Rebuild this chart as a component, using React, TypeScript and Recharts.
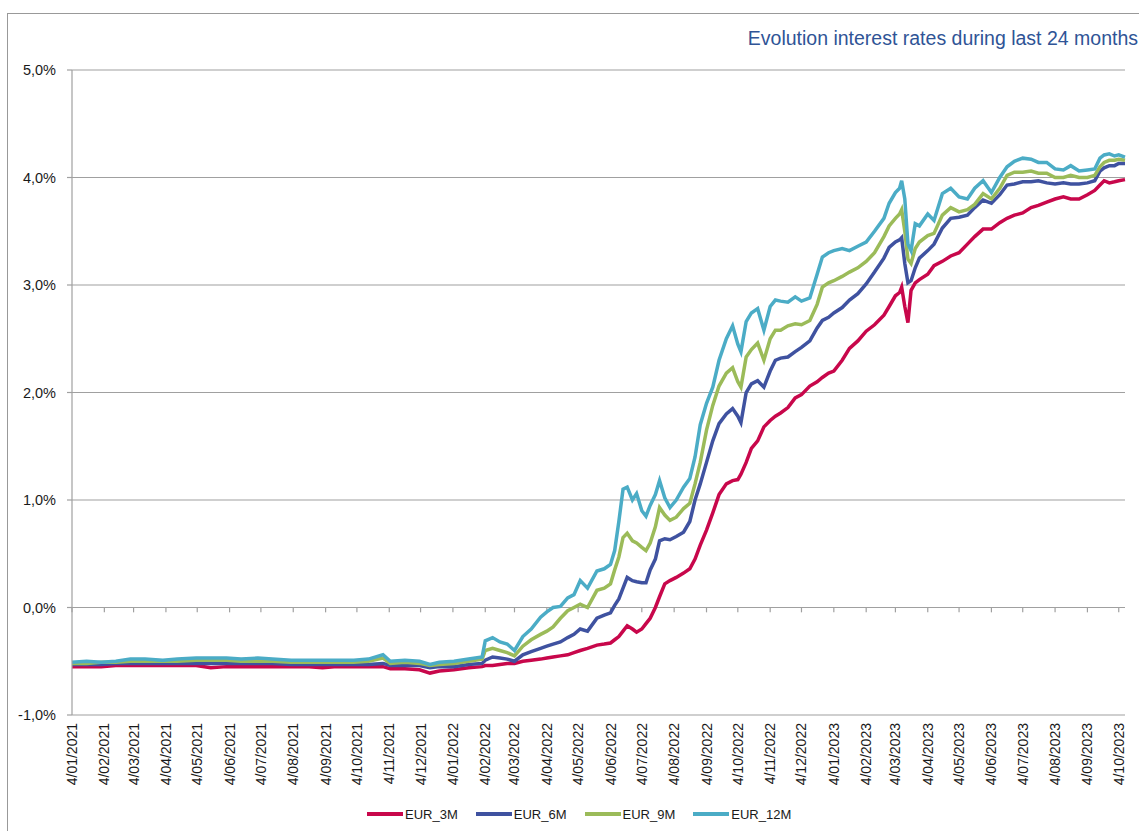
import {
  LineChart,
  Line,
  CartesianGrid,
  XAxis,
  YAxis,
  ReferenceLine,
} from 'recharts'

// fixing dates, one row per period
const dates = [
  '2021-01-04', '2021-01-18', '2021-02-01', '2021-02-15', '2021-03-01', '2021-03-15', '2021-04-01', '2021-04-15', '2021-05-03', '2021-05-17', '2021-06-01', '2021-06-15',
  '2021-07-01', '2021-07-15', '2021-08-02', '2021-08-16', '2021-09-01', '2021-09-15', '2021-10-01', '2021-10-15', '2021-10-29', '2021-11-05', '2021-11-19', '2021-12-03', '2021-12-13', '2021-12-22',
  '2022-01-05', '2022-01-19', '2022-02-01',
  '2022-02-04', '2022-02-11', '2022-02-18', '2022-02-25', '2022-03-04', '2022-03-12', '2022-03-20', '2022-03-29',
  '2022-04-04', '2022-04-10', '2022-04-17', '2022-04-24', '2022-04-30', '2022-05-06', '2022-05-13', '2022-05-22', '2022-05-29',
  '2022-06-04', '2022-06-08', '2022-06-12', '2022-06-16', '2022-06-20', '2022-06-25', '2022-06-29',
  '2022-07-04', '2022-07-08', '2022-07-12', '2022-07-17', '2022-07-21', '2022-07-26', '2022-07-31',
  '2022-08-06', '2022-08-13', '2022-08-19', '2022-08-24', '2022-08-29',
  '2022-09-04', '2022-09-10', '2022-09-16', '2022-09-23', '2022-09-29',
  '2022-10-04', '2022-10-07', '2022-10-12', '2022-10-17', '2022-10-23', '2022-10-29',
  '2022-11-04', '2022-11-09', '2022-11-14', '2022-11-21', '2022-11-28',
  '2022-12-04', '2022-12-12', '2022-12-19', '2022-12-24', '2022-12-30',
  '2023-01-04', '2023-01-12', '2023-01-19', '2023-01-27',
  '2023-02-04', '2023-02-12', '2023-02-21', '2023-02-26',
  '2023-03-04', '2023-03-08', '2023-03-10', '2023-03-13', '2023-03-16', '2023-03-19', '2023-03-23', '2023-03-27',
  '2023-04-04', '2023-04-10', '2023-04-18', '2023-04-26',
  '2023-05-04', '2023-05-12', '2023-05-19', '2023-05-27',
  '2023-06-04', '2023-06-12', '2023-06-19', '2023-06-26',
  '2023-07-04', '2023-07-12', '2023-07-19', '2023-07-27',
  '2023-08-04', '2023-08-12', '2023-08-19', '2023-08-27',
  '2023-09-04', '2023-09-11', '2023-09-16', '2023-09-20', '2023-09-25', '2023-09-30',
  '2023-10-04', '2023-10-10',
]

const eur3m = [
  -0.55, -0.55, -0.55, -0.54, -0.54, -0.54, -0.54, -0.54, -0.54, -0.56, -0.55, -0.55,
  -0.55, -0.55, -0.55, -0.55, -0.56, -0.55, -0.55, -0.55, -0.55, -0.57, -0.57, -0.58, -0.61, -0.59,
  -0.58, -0.56, -0.55,
  -0.54, -0.54, -0.53, -0.52, -0.52, -0.5, -0.49, -0.48,
  -0.47, -0.46, -0.45, -0.44, -0.42, -0.4, -0.38, -0.35, -0.34,
  -0.33, -0.3, -0.27, -0.22, -0.17, -0.2, -0.23,
  -0.2, -0.15, -0.1, 0.0, 0.1, 0.22, 0.25,
  0.28, 0.32, 0.36, 0.45, 0.58,
  0.72, 0.88, 1.05, 1.15, 1.18,
  1.19, 1.24, 1.35, 1.48, 1.55, 1.68,
  1.74, 1.78, 1.81, 1.86, 1.95,
  1.98, 2.06, 2.1, 2.14, 2.18,
  2.2, 2.3, 2.41, 2.48,
  2.57, 2.63, 2.72, 2.8,
  2.9, 2.93, 2.98, 2.8, 2.65, 2.95, 3.02, 3.05,
  3.1, 3.18, 3.22, 3.27,
  3.3, 3.38, 3.45, 3.52,
  3.52, 3.58, 3.62, 3.65,
  3.67, 3.72, 3.74, 3.77,
  3.8, 3.82, 3.8, 3.8,
  3.84, 3.88, 3.93, 3.97, 3.95, 3.96,
  3.97, 3.98,
]

const eur6m = [
  -0.53, -0.53, -0.53, -0.52, -0.52, -0.52, -0.52, -0.52, -0.52, -0.52, -0.52, -0.52,
  -0.52, -0.52, -0.53, -0.53, -0.53, -0.53, -0.53, -0.53, -0.52, -0.54, -0.54, -0.54, -0.56, -0.55,
  -0.55, -0.53, -0.52,
  -0.49, -0.46, -0.47, -0.48, -0.5, -0.44, -0.41, -0.38,
  -0.36, -0.34, -0.32, -0.28, -0.25, -0.2, -0.22, -0.1, -0.07,
  -0.05, 0.02, 0.08, 0.18, 0.28, 0.25, 0.24,
  0.23, 0.23, 0.35, 0.45, 0.62, 0.64, 0.63,
  0.66, 0.7, 0.8, 1.0, 1.15,
  1.35, 1.55, 1.71, 1.8, 1.85,
  1.78, 1.72, 2.0, 2.08, 2.11, 2.05,
  2.2, 2.3, 2.32, 2.33, 2.38,
  2.42, 2.48, 2.6, 2.67, 2.7,
  2.74, 2.79, 2.86, 2.92,
  3.01, 3.12, 3.25, 3.35,
  3.4, 3.42, 3.44, 3.2, 3.02, 3.04, 3.16, 3.25,
  3.32, 3.38, 3.53, 3.62,
  3.63, 3.65, 3.72, 3.79,
  3.76, 3.84, 3.93, 3.94,
  3.96, 3.96, 3.97, 3.95,
  3.94, 3.95, 3.94, 3.94,
  3.95, 3.97, 4.06, 4.09, 4.11, 4.11,
  4.13, 4.13,
]

const eur9m = [
  -0.52, -0.52, -0.51, -0.51, -0.5, -0.5, -0.5, -0.5, -0.49, -0.49, -0.49, -0.5,
  -0.5, -0.5, -0.51, -0.51, -0.51, -0.51, -0.51, -0.5, -0.47, -0.52, -0.51, -0.52, -0.54, -0.53,
  -0.52, -0.5, -0.48,
  -0.4, -0.38, -0.4, -0.42, -0.45, -0.36, -0.3, -0.25,
  -0.22, -0.18, -0.1, -0.03, 0.0, 0.03, 0.0, 0.16, 0.18,
  0.22, 0.35, 0.47, 0.65, 0.69, 0.62, 0.6,
  0.56, 0.53, 0.6, 0.75, 0.93, 0.86, 0.81,
  0.84, 0.92, 0.97, 1.15, 1.35,
  1.65, 1.88, 2.06, 2.18, 2.23,
  2.1, 2.05, 2.33, 2.4, 2.46, 2.3,
  2.5, 2.58, 2.58, 2.62, 2.64,
  2.63, 2.67, 2.82, 2.98, 3.02,
  3.04, 3.08, 3.12, 3.16,
  3.22, 3.3, 3.45, 3.55,
  3.62, 3.66, 3.7, 3.5, 3.24, 3.2, 3.34, 3.4,
  3.46, 3.48, 3.65, 3.72,
  3.68, 3.7, 3.75, 3.85,
  3.8, 3.9, 4.02, 4.05,
  4.05, 4.06, 4.04, 4.04,
  4.0, 4.0, 4.02, 4.0,
  4.0, 4.02, 4.1, 4.14, 4.16, 4.16,
  4.17, 4.16,
]

const eur12m = [
  -0.51, -0.5, -0.51, -0.5, -0.48, -0.48, -0.49, -0.48, -0.47, -0.47, -0.47, -0.48,
  -0.47, -0.48, -0.49, -0.49, -0.49, -0.49, -0.49, -0.48, -0.44, -0.5, -0.49, -0.5, -0.53, -0.51,
  -0.5, -0.48, -0.46,
  -0.31, -0.28, -0.32, -0.34, -0.4, -0.27, -0.2, -0.09,
  -0.04, 0.0, 0.01, 0.09, 0.12, 0.25, 0.18, 0.34, 0.36,
  0.4, 0.53, 0.8, 1.1, 1.12, 1.0, 1.06,
  0.9, 0.85, 0.95, 1.05, 1.18, 1.02, 0.93,
  1.0, 1.12, 1.2, 1.4, 1.7,
  1.9, 2.05, 2.3, 2.5, 2.62,
  2.45, 2.38, 2.66, 2.74, 2.78, 2.58,
  2.8, 2.86, 2.85, 2.84, 2.89,
  2.85, 2.88, 3.1, 3.26, 3.3,
  3.32, 3.34, 3.32, 3.36,
  3.4, 3.5, 3.62, 3.76,
  3.86, 3.9, 3.97, 3.8, 3.38, 3.32, 3.57, 3.55,
  3.66, 3.6, 3.85, 3.9,
  3.82, 3.8, 3.9, 3.97,
  3.86, 4.0, 4.1, 4.15,
  4.18, 4.17, 4.14, 4.14,
  4.08, 4.07, 4.11, 4.06,
  4.07, 4.08, 4.18, 4.21, 4.22, 4.2,
  4.21, 4.19,
]

// axis ticks: the 4th of every month
const tickDates = [
  '2021-01-04', '2021-02-04', '2021-03-04', '2021-04-04', '2021-05-04', '2021-06-04',
  '2021-07-04', '2021-08-04', '2021-09-04', '2021-10-04', '2021-11-04', '2021-12-04',
  '2022-01-04', '2022-02-04', '2022-03-04', '2022-04-04', '2022-05-04', '2022-06-04',
  '2022-07-04', '2022-08-04', '2022-09-04', '2022-10-04', '2022-11-04', '2022-12-04',
  '2023-01-04', '2023-02-04', '2023-03-04', '2023-04-04', '2023-05-04', '2023-06-04',
  '2023-07-04', '2023-08-04', '2023-09-04', '2023-10-04',
]
const yTicks = [-1, 0, 1, 2, 3, 4, 5]

const series = [
  { key: 'EUR_3M', color: '#C8074B' },
  { key: 'EUR_6M', color: '#3F52A0' },
  { key: 'EUR_9M', color: '#9BBB59' },
  { key: 'EUR_12M', color: '#4BACC6' },
]

const ts = (d: string) => Date.parse(d + 'T00:00:00Z')

const data = dates.map((d, i) => ({
  t: ts(d),
  EUR_3M: eur3m[i],
  EUR_6M: eur6m[i],
  EUR_9M: eur9m[i],
  EUR_12M: eur12m[i],
}))

const xTicks = tickDates.map(ts)
const font = '"Liberation Sans", Arial, sans-serif'

const fmtDate = (v: number) => {
  const d = new Date(v)
  const m = String(d.getUTCMonth() + 1).padStart(2, '0')
  return `${d.getUTCDate()}/${m}/${d.getUTCFullYear()}`
}

const fmtPct = (v: number) => v.toFixed(1).replace('.', ',') + '%'

function DateTick(props: any) {
  const { x, y, payload } = props
  return (
    <text
      x={x}
      y={y}
      transform={`rotate(-90 ${x} ${y})`}
      textAnchor="end"
      dominantBaseline="central"
      fontSize={14}
      fontFamily={font}
      fill="#1a1a1a"
    >
      {fmtDate(payload.value)}
    </text>
  )
}

export default function App() {
  return (
    <div style={{ position: 'absolute', left: 0, top: 0, width: 1139, height: 831, background: '#fff', overflow: 'hidden' }}>
      <div
        style={{
          position: 'absolute',
          left: 7,
          top: 13,
          width: 1145,
          height: 840,
          border: '1.5px solid #999',
        }}
      />
      <div
        style={{
          position: 'absolute',
          right: 1,
          top: 27,
          fontFamily: font,
          fontSize: 19.5,
          color: '#2F5496',
          whiteSpace: 'nowrap',
        }}
      >
        Evolution interest rates during last 24 months
      </div>
      <div style={{ position: 'absolute', left: 0, top: 0 }}>
        <LineChart
          width={1139}
          height={831}
          data={data}
          margin={{ top: 70, right: 14, bottom: 16, left: 12 }}
        >
          <CartesianGrid vertical={false} stroke="#a0a0a0" strokeWidth={1.2} />
          <XAxis
            dataKey="t"
            type="number"
            domain={[ts('2021-01-04'), ts('2023-10-10')]}
            ticks={xTicks}
            interval={0}
            height={100}
            axisLine={false}
            tickLine={false}
            tickSize={0}
            tickMargin={8}
            tick={<DateTick />}
          />
          <YAxis
            type="number"
            domain={[-1, 5]}
            ticks={yTicks}
            interval={0}
            width={60}
            tickFormatter={fmtPct}
            tickSize={5}
            tickMargin={11}
            axisLine={{ stroke: '#a0a0a0', strokeWidth: 1.2 }}
            tickLine={{ stroke: '#a0a0a0', strokeWidth: 1.2 }}
            tick={{ fontSize: 14.5, fontFamily: font, fill: '#1a1a1a' }}
          />
          {xTicks.map((t) => (
            <ReferenceLine
              key={t}
              segment={[
                { x: t, y: 0 },
                { x: t, y: -0.045 },
              ]}
              stroke="#a0a0a0"
              strokeWidth={1.2}
            />
          ))}
          {series.map((s) => (
            <Line
              key={s.key}
              type="linear"
              dataKey={s.key}
              stroke={s.color}
              strokeWidth={3.5}
              dot={false}
              isAnimationActive={false}
            />
          ))}
        </LineChart>
      </div>
      <div
        style={{
          position: 'absolute',
          left: 367,
          top: 805,
          display: 'flex',
          alignItems: 'center',
          fontFamily: font,
          fontSize: 13,
          color: '#1a1a1a',
        }}
      >
        {series.map((s) => (
          <div key={s.key} style={{ display: 'flex', alignItems: 'center', marginRight: 18 }}>
            <svg width={36} height={18}>
              <line x1={0} y1={9} x2={36} y2={9} stroke={s.color} strokeWidth={4} />
            </svg>
            <span style={{ marginLeft: 2 }}>{s.key}</span>
          </div>
        ))}
      </div>
    </div>
  )
}
